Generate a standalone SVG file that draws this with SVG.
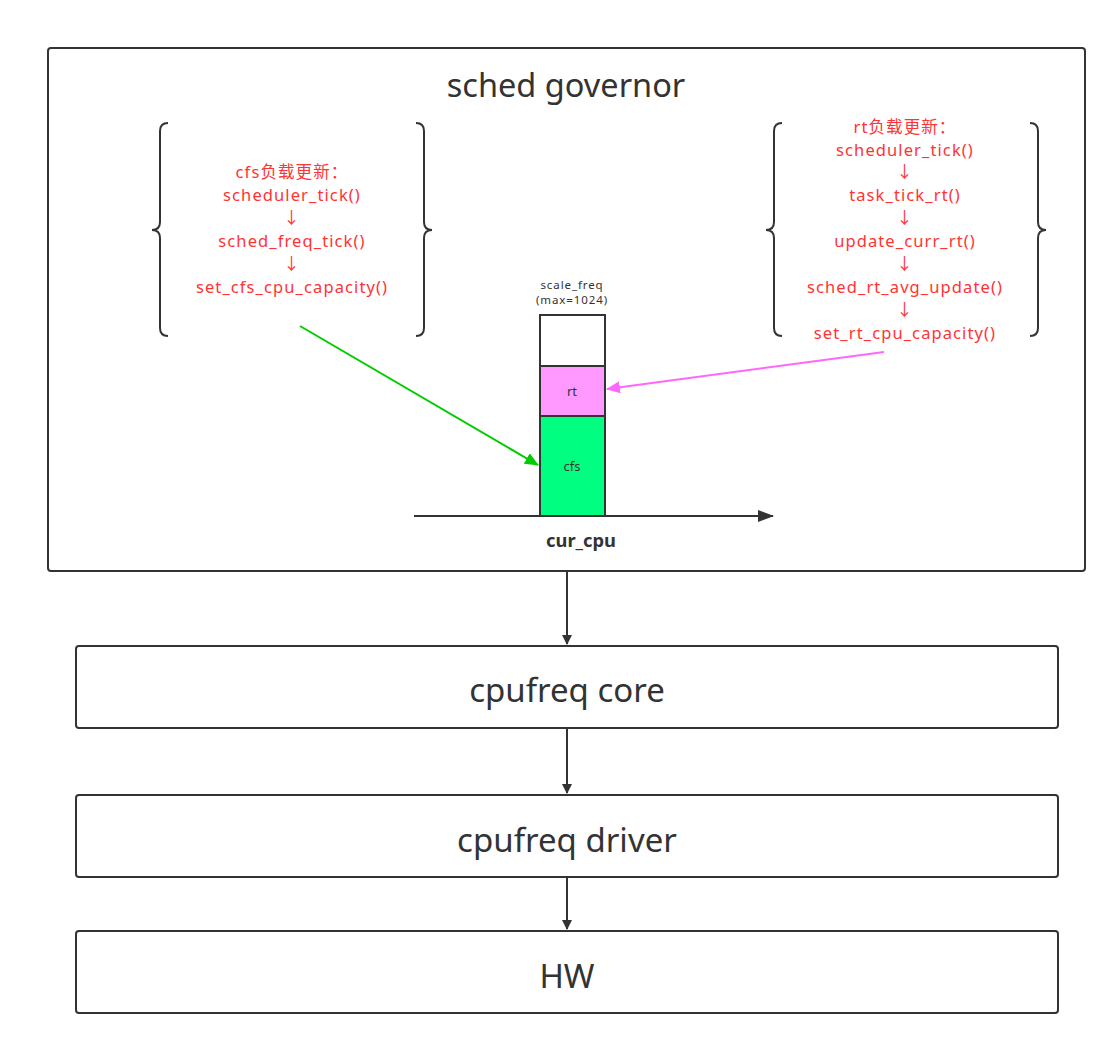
<svg xmlns="http://www.w3.org/2000/svg" width="1117" height="1045" viewBox="0 0 1117 1045">
<defs>
<style>
.box{fill:#fff;stroke:#333;stroke-width:2}
.br{fill:none;stroke:#333;stroke-width:2}
.t{font-family:"Noto Sans","Noto Sans CJK SC",sans-serif;fill:#333;text-anchor:middle}
.r{font-family:"Noto Sans","Noto Sans CJK SC",sans-serif;fill:#ff3333;text-anchor:middle;font-size:16.5px;letter-spacing:1.1px}
.s{font-size:11.5px;letter-spacing:0.9px}
.ln{stroke:#333;stroke-width:2;fill:none}
</style>
<marker id="ah" markerWidth="10" markerHeight="10" refX="9" refY="5" orient="auto" markerUnits="userSpaceOnUse" viewBox="0 0 10 10"><path d="M0,0 L10,5 L0,10 Z" fill="#333"/></marker>
<marker id="ahg" markerWidth="14" markerHeight="12" refX="13" refY="6" orient="auto" markerUnits="userSpaceOnUse" viewBox="0 0 14 12"><path d="M0,0 L14,6 L0,12 Z" fill="#00cc00"/></marker>
<marker id="ahp" markerWidth="14" markerHeight="12" refX="13" refY="6" orient="auto" markerUnits="userSpaceOnUse" viewBox="0 0 14 12"><path d="M0,0 L14,6 L0,12 Z" fill="#ff66ff"/></marker>
<marker id="ahb" markerWidth="16" markerHeight="12" refX="15" refY="6" orient="auto" markerUnits="userSpaceOnUse" viewBox="0 0 16 12"><path d="M0,0 L16,6 L0,12 Z" fill="#333"/></marker>
</defs>
<rect width="1117" height="1045" fill="#fff"/>
<g id="sched-governor">
<rect class="box" x="48" y="48" width="1037" height="523" rx="3"/>
<text class="t" x="566" y="97" font-size="32.5">sched governor</text>
</g>
<g id="cfs-group">
<path class="br" d="M168,123 Q160,123 160,131 L160,222 Q160,230 152,230 Q160,230 160,238 L160,328 Q160,336 168,336"/>
<path class="br" d="M416,123 Q424,123 424,131 L424,222 Q424,230 432,230 Q424,230 424,238 L424,328 Q424,336 416,336"/>
<text class="r" x="292" y="178">cfs负载更新：</text>
<text class="r" x="292" y="201">scheduler_tick()</text>
<text class="r" x="292" y="224">↓</text>
<text class="r" x="292" y="247">sched_freq_tick()</text>
<text class="r" x="292" y="270">↓</text>
<text class="r" x="292" y="293">set_cfs_cpu_capacity()</text>
</g>
<g id="rt-group">
<path class="br" d="M782,123 Q774,123 774,131 L774,222 Q774,230 766,230 Q774,230 774,238 L774,328 Q774,336 782,336"/>
<path class="br" d="M1030,123 Q1038,123 1038,131 L1038,222 Q1038,230 1046,230 Q1038,230 1038,238 L1038,328 Q1038,336 1030,336"/>
<text class="r" x="905" y="133">rt负载更新：</text>
<text class="r" x="905" y="156">scheduler_tick()</text>
<text class="r" x="905" y="178">↓</text>
<text class="r" x="905" y="201">task_tick_rt()</text>
<text class="r" x="905" y="224">↓</text>
<text class="r" x="905" y="247">update_curr_rt()</text>
<text class="r" x="905" y="270">↓</text>
<text class="r" x="905" y="293">sched_rt_avg_update()</text>
<text class="r" x="905" y="316">↓</text>
<text class="r" x="905" y="339">set_rt_cpu_capacity()</text>
</g>
<g id="bar">
<text class="t s" x="572" y="289">scale_freq</text>
<text class="t s" x="572" y="304">(max=1024)</text>
<rect x="540" y="315" width="65" height="51" fill="#fff" stroke="#333" stroke-width="2"/>
<rect x="540" y="366" width="65" height="50" fill="#ff99ff" stroke="#333" stroke-width="2"/>
<text class="t" x="572" y="396" font-size="13">rt</text>
<rect x="540" y="416" width="65" height="100" fill="#00ff80" stroke="#333" stroke-width="2"/>
<text class="t" x="572" y="471" font-size="13">cfs</text>
</g>
<g id="axis">
<line class="ln" x1="414" y1="516" x2="773" y2="516" marker-end="url(#ahb)"/>
<text class="t" x="581" y="547" font-size="18.3" font-weight="bold">cur_cpu</text>
</g>
<g id="cpufreq-core">
<rect class="box" x="76" y="646" width="982" height="82" rx="3"/>
<text class="t" x="567" y="702" font-size="33">cpufreq core</text>
</g>
<g id="cpufreq-driver">
<rect class="box" x="76" y="795" width="982" height="82" rx="3"/>
<text class="t" x="567" y="852" font-size="33">cpufreq driver</text>
</g>
<g id="hw">
<rect class="box" x="76" y="931" width="982" height="82" rx="3"/>
<text class="t" x="567" y="988" font-size="33">HW</text>
</g>
<g id="connectors">
<line x1="300" y1="326" x2="538" y2="465" stroke="#00cc00" stroke-width="2" marker-end="url(#ahg)"/>
<line x1="884" y1="352" x2="607" y2="389" stroke="#ff66ff" stroke-width="2" marker-end="url(#ahp)"/>
<line class="ln" x1="567" y1="572" x2="567" y2="644" marker-end="url(#ah)"/>
<line class="ln" x1="567" y1="729" x2="567" y2="793" marker-end="url(#ah)"/>
<line class="ln" x1="567" y1="878" x2="567" y2="929" marker-end="url(#ah)"/>
</g>
</svg>
